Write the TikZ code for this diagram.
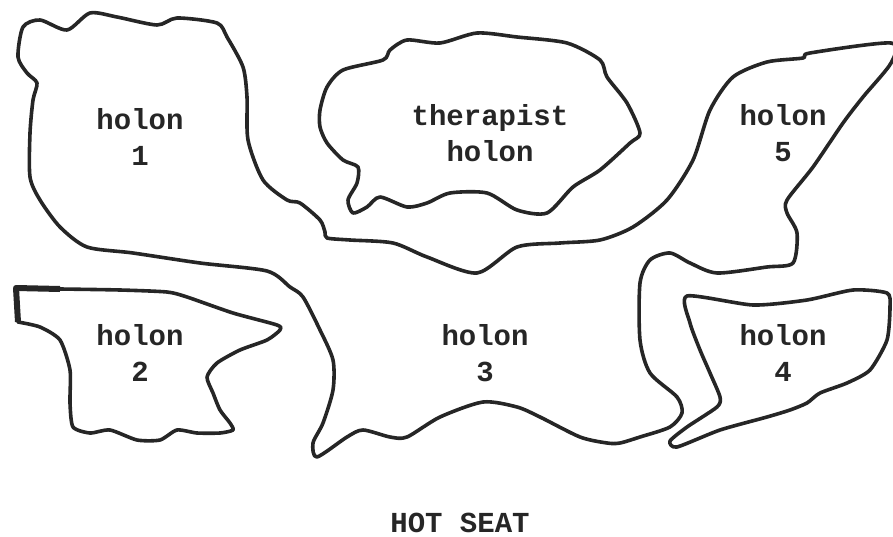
\documentclass[tikz,border=0pt]{standalone}
\usepackage{fontspec}
\setmonofont{Liberation Mono}
\begin{document}
\begin{tikzpicture}[x=1pt,y=-1pt,
  outline/.style={line width=3.6pt,line join=round,line cap=round,black!85},
  lbl/.style={font=\ttfamily\bfseries\fontsize{29}{36}\selectfont,align=center,text=black!85,inner sep=0pt}]
\useasboundingbox (0,0) rectangle (893,537);
% big shape: holons 1, 3, 5
\draw[outline] plot[smooth cycle,tension=0.45] coordinates {
 (18,57) (23,27) (40,20) (67,30) (90,13) (117,17) (157,25) (177,18) (217,23)
 (227,37) (243,67) (247,97) (248,140) (263,180) (287,200) (300,203) (320,220)
 (325,232) (327,238) (350,240) (393,243) (427,257) (477,273) (517,247) (560,243)
 (600,240) (633,227) (667,200) (693,160) (710,110) (733,77) (767,62) (803,58)
 (810,53) (891,43) (891,63) (863,97) (843,123) (813,167) (787,200) (787,213)
 (797,233) (793,263) (767,267) (717,273) (690,263) (670,253) (650,260) (640,283)
 (640,340) (650,373) (677,397) (682,413) (670,427) (640,437) (620,443)
 (607,443) (580,437) (540,417) (517,407) (483,402) (440,417) (407,437)
 (390,437) (363,430) (347,437) (317,457) (313,443) (323,423) (333,390)
 (333,360) (320,330) (303,297) (290,287) (267,271) (200,263) (133,253)
 (87,247) (60,227) (40,200) (30,177) (30,133) (33,100) (37,83) (27,73)};
% therapist holon
\draw[outline] plot[smooth cycle,tension=0.45] coordinates {
 (320,110) (327,87) (343,70) (383,60) (390,50) (407,40) (440,43) (477,33)
 (517,37) (567,43) (600,60) (607,77) (627,103) (640,133) (630,143) (600,170)
 (573,187) (547,213) (517,210) (487,193) (450,193) (427,203) (407,207)
 (380,197) (367,207) (353,213) (348,200) (357,183) (358,167) (343,160)
 (327,143) (320,127)};
% holon 2
\draw[outline] (16,288) -- plot[smooth,tension=0.4] coordinates {
 (60,289) (120,290) (167,292) (187,297) (233,313) (277,325) (280,330)
 (267,340) (240,350) (217,363) (207,377) (213,393) (220,410) (230,423)
 (233,430) (220,433) (197,433) (177,430) (160,440) (137,440) (110,430)
 (90,433) (73,427) (70,403) (70,370) (60,340) (40,327) (18,322)} -- cycle;
\draw[line width=6pt,black!85,line join=round] (18,322) -- (16,288) -- (60,289);
% holon 4
\draw[outline] plot[smooth cycle,tension=0.4] coordinates {
 (687,296) (753,305) (807,300) (853,290) (887,293) (890,307) (887,340)
 (870,370) (847,383) (820,393) (807,403) (790,410) (767,417) (720,430)
 (677,447) (670,441) (687,427) (717,407) (720,397) (710,373) (700,350)
 (690,323)};
% labels
\node[lbl] (h1) at (140,137) {holon\\1};
\node[lbl] (th) at (490,133) {therapist\\holon};
\node[lbl] (h5) at (783,133) {holon\\5};
\node[lbl] (h2) at (140,353) {holon\\2};
\node[lbl] (h3) at (485,353) {holon\\3};
\node[lbl] (h4) at (783,353) {holon\\4};
\node[lbl] (hs) at (460,523) {HOT SEAT};
\end{tikzpicture}
\end{document}
